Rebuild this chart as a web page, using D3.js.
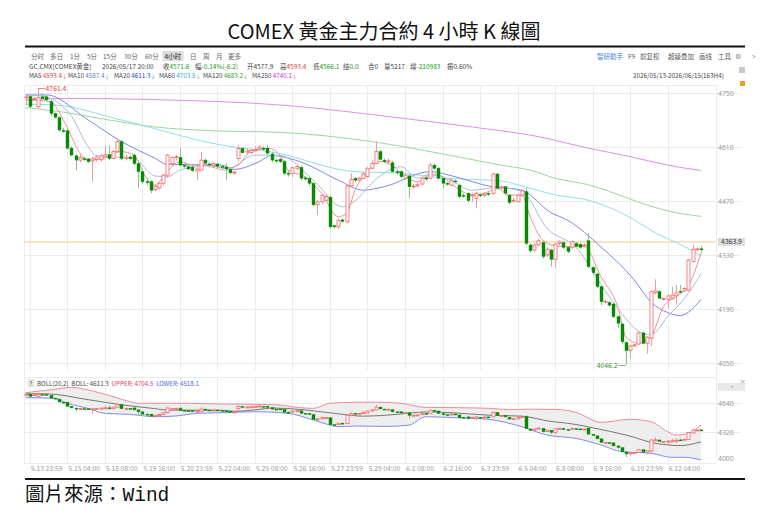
<!DOCTYPE html>
<html><head><meta charset="utf-8">
<script src="https://cdn.jsdelivr.net/npm/d3@7/dist/d3.min.js"></script>
<style>
html,body{margin:0;padding:0;background:#fff;}
svg text{font-family:"Noto Sans CJK SC","Noto Sans",sans-serif;}
</style></head><body>
<svg id="c" width="764" height="517"></svg>
<script>
// ---------- DATA ----------
const opens  = [4738,4741,4735,4714,4740,4740,4728,4697,4686,4653,4652,4607,4587,4576,4580,4579,4574,4578,4577,4586,
4590,4580,4598,4624,4580,4584,4589,4567,4546,4520,4520,4500,4504,4516,4537,4567,4583,4583,4563,4559,
4558,4548,4550,4576,4566,4562,4566,4560,4558,4552,4543,4580,4606,4597,4596,4600,4605,4607,4607,4592,
4576,4578,4572,4542,4542,4555,4557,4530,4529,4516,4460,4468,4472,4480,4406,4403,4421,4416,4509,4529,
4524,4529,4533,4555,4567,4598,4576,4572,4569,4546,4546,4529,4535,4507,4510,4514,4530,4529,4563,4555,
4529,4516,4511,4522,4511,4485,4490,4484,4477,4486,4485,4490,4490,4540,4504,4507,4485,4470,4468,4485,
4494,4356,4343,4356,4362,4330,4343,4319,4360,4362,4350,4350,4360,4358,4355,4367,4298,4281,4248,4209,
4207,4203,4170,4151,4103,4082,4095,4099,4128,4101,4114,4232,4235,4216,4215,4218,4224,4236,4237,4239,
4313,4345,4346];
const highs  = [4746,4745,4740,4761.4,4750,4744,4733,4700,4690,4660,4656,4612,4592,4590,4584,4582,4585,4588,4592,4614,
4614,4602,4630,4628,4590,4588,4594,4575,4552,4530,4524,4512,4520,4540,4592,4585,4590,4607,4568,4566,
4562,4565,4597,4580,4572,4570,4570,4565,4568,4556,4548,4615,4610,4606,4606,4612,4615,4612,4615,4598,
4580,4582,4576,4550,4560,4565,4562,4534,4532,4518,4472,4490,4488,4483,4408,4425,4425,4512,4542,4532,
4532,4545,4558,4576,4625,4602,4580,4580,4574,4550,4550,4540,4540,4515,4518,4532,4533,4569,4567,4558,
4532,4520,4528,4526,4515,4490,4493,4490,4495,4490,4492,4493,4543,4543,4510,4510,4488,4478,4490,4500,
4505,4360,4360,4372,4368,4350,4346,4362,4368,4366,4353,4368,4364,4362,4360,4387,4300,4284,4250,4214,
4210,4206,4173,4154,4106,4098,4100,4132,4131,4120,4238,4267,4239,4220,4227,4247,4252,4252,4246,4320,
4356,4350,4354];
const lows   = [4718,4710,4730,4710,4733,4728,4692,4684,4650,4646,4604,4586,4550,4570,4574,4568,4520,4572,4572,4580,
4576,4578,4595,4576,4575,4576,4563,4503,4515,4512,4490,4496,4500,4510,4530,4560,4575,4560,4556,4550,
4545,4525,4548,4566,4560,4558,4557,4552,4525,4540,4538,4572,4595,4590,4592,4597,4600,4600,4590,4570,
4570,4568,4537,4533,4533,4550,4525,4522,4510,4455,4433,4462,4470,4398,4398,4397,4414,4412,4505,4520,
4521,4526,4530,4552,4565,4575,4568,4566,4543,4538,4528,4525,4477,4502,4505,4510,4522,4526,4550,4526,
4503,4510,4508,4515,4478,4478,4466,4468,4451,4480,4481,4483,4487,4500,4500,4485,4462,4466,4466,4482,
4356,4336,4338,4352,4320,4325,4300,4297,4355,4345,4334,4346,4350,4346,4350,4296,4278,4244,4200,4205,
4196,4166,4140,4100,4046.2,4062,4092,4096,4098,4075,4094,4228,4215,4212,4192,4215,4200,4230,4234,4236,
4310,4340,4335];
const closes = [4740,4715,4736,4738,4735,4732,4697,4687,4654,4650,4607,4589,4576,4583,4578,4572,4579,4584,4587,4590,
4580,4598,4624,4580,4584,4580,4567,4546,4520,4518,4498,4508,4516,4537,4589,4583,4585,4563,4560,4553,
4549,4553,4576,4568,4564,4567,4560,4557,4553,4543,4545,4606,4595,4600,4601,4604,4610,4604,4594,4576,
4574,4572,4542,4541,4556,4560,4529,4527,4516,4460,4468,4485,4482,4403,4403,4420,4417,4509,4526,4524,
4529,4540,4555,4567,4598,4578,4572,4574,4546,4543,4533,4537,4507,4509,4512,4529,4527,4563,4555,4529,
4516,4515,4524,4521,4481,4483,4471,4486,4490,4485,4488,4487,4540,4503,4507,4490,4466,4472,4485,4496,
4360,4341,4356,4367,4326,4345,4319,4358,4364,4350,4339,4364,4353,4350,4356,4300,4284,4248,4209,4210,
4200,4170,4153,4105,4082,4094,4097,4128,4101,4117,4235,4237,4218,4217,4224,4226,4232,4234,4243,4317,
4345,4346,4344];

// moving averages, [bar index, value]
const ma5   = [[0,4732],[6,4728],[8,4701],[10,4660],[13,4595],[15,4576],[19,4582],[23,4598],[26,4589],[29,4529],[31,4511],[34,4546],[37,4572],[40,4563],[43,4563],[48,4555],[51,4563],[54,4598],[58,4607],[61,4589],[63,4550],[67,4533],[71,4490],[75,4429],[77,4438],[79,4498],[82,4546],[85,4572],[88,4561],[91,4533],[94,4520],[97,4537],[99,4537],[103,4507],[107,4486],[110,4490],[113,4503],[116,4486],[119,4485],[121,4430],[124,4369],[128,4352],[134,4352],[138,4274],[142,4196],[144,4118],[147,4101],[150,4118],[153,4196],[156,4222],[159,4250],[162,4335]];
const ma10  = [[0,4745],[4,4742],[11,4690],[15,4611],[17,4588],[23,4583],[26,4580],[31,4535],[34,4533],[37,4550],[43,4561],[48,4550],[55,4589],[61,4588],[69,4524],[76,4455],[79,4470],[83,4516],[86,4542],[90,4559],[94,4529],[97,4540],[102,4524],[107,4498],[113,4505],[119,4495],[125,4400],[132,4350],[140,4222],[148,4127],[150,4123],[154,4170],[159,4231],[162,4282]];
const ma20  = [[0,4745],[5,4745],[15,4680],[23,4624],[31,4581],[34,4565],[47,4563],[50,4552],[56,4572],[59,4588],[62,4584],[67,4567],[75,4524],[81,4498],[86,4507],[97,4546],[103,4533],[111,4509],[119,4498],[126,4440],[130,4420],[138,4351],[146,4265],[150,4208],[154,4181],[157,4173],[159,4182],[162,4215]];
const ma60  = [[0,4721],[7,4719],[23,4680],[47,4615],[60,4595],[79,4546],[90,4542],[101,4529],[114,4522],[120,4506],[127,4486],[135,4472],[144,4433],[151,4388],[158,4352],[162,4328]];
const ma120 = [[0,4712],[8,4702],[20,4680],[31,4662],[45,4652],[61,4648],[83,4624],[102,4588],[114,4563],[121,4550],[127,4529],[135,4512],[140,4495],[147,4467],[155,4442],[162,4430]];
const ma250 = [[0,4731],[10,4736],[30,4733],[61,4719],[90,4685],[114,4652],[121,4641],[135,4607],[145,4585],[154,4563],[162,4549]];
// Bollinger (20,2): middle line is MA20
const bollUpper = [[0,4757],[7,4794],[11,4816],[15,4787],[21,4713],[25,4658],[27,4640],[39,4640],[47,4632],[55,4629],[61,4621],[65,4595],[69,4584],[73,4640],[79,4651],[85,4651],[90,4640],[96,4595],[103,4592],[111,4585],[116,4570],[120,4575],[127,4573],[132,4540],[138,4430],[145,4463],[150,4437],[154,4327],[156,4290],[159,4308],[162,4400]];
const bollLower = [[0,4702],[7,4695],[10,4640],[15,4584],[19,4529],[25,4518],[31,4492],[36,4500],[41,4529],[47,4536],[55,4547],[63,4529],[69,4456],[73,4400],[75,4382],[79,4389],[87,4385],[92,4400],[96,4492],[103,4481],[111,4463],[119,4382],[125,4290],[132,4253],[138,4180],[143,4106],[150,4088],[155,4044],[158,4044],[162,4014]];

const mainTicks = [4050,4190,4330,4470,4610,4750];
const bollTicks = [4000,4320,4640];
const xTickIdx = [1,10,19,28,37,46,55,64,73,82,91,100,109,118,127,136,145,154];
const xTickLabels = ["5.13 23:59","5.15 04:00","5.18 08:00","5.19 16:00","5.20 23:59","5.22 04:00","5.25 08:00","5.26 16:00","5.27 23:59","5.29 04:00","6.1 08:00","6.2 16:00","6.3 23:59","6.5 04:00","6.8 08:00","6.9 16:00","6.10 23:59","6.12 04:00"];
const lastPrice = 4363.9;
const maxMark = {i:3, v:4761.4};
const minMark = {i:144, v:4046.2};

// ---------- DRAW ----------
const svg = d3.select("#c");
const N = closes.length;
const L = 24, R = 716;
const x = d3.scaleLinear().domain([0, N-1]).range([25.6, 701]);
const y = d3.scaleLinear().domain([4050, 4750]).range([363, 93]);
const yb = d3.scaleLinear().domain([4000, 4640]).range([461.3, 403.3]);
const MT = 85, MB = 370, BT = 377, BB = 463;

svg.append("rect").attr("width",764).attr("height",517).attr("fill","#fff");

// title
svg.append("text").attr("x",384).attr("y",39).attr("text-anchor","middle")
  .style("font-family","'Noto Sans CJK TC',sans-serif").style("font-size","20px").attr("fill","#111")
  .text("COMEX 黃金主力合約 4 小時 K 線圖");
svg.append("rect").attr("x",25).attr("y",45.5).attr("width",720).attr("height",2).attr("fill","#111");
svg.append("rect").attr("x",25).attr("y",478).attr("width",720).attr("height",2).attr("fill","#111");
const ft = svg.append("text").attr("x",25).attr("y",501).style("font-size","19.5px").attr("fill","#111");
ft.append("tspan").style("font-family","'Noto Sans CJK TC',sans-serif").text("圖片來源：");
ft.append("tspan").style("font-family","'Liberation Mono','DejaVu Sans Mono',monospace").text("Wind");

// header text helper: groups placed at x, parts flow inline
const FS = "6.5px";
function grp(xp, yp, parts, size){
  const e = svg.append("text").attr("x",xp).attr("y",yp).style("font-size",size||FS);
  parts.forEach(p=>{
    const s = e.append("tspan").attr("fill",p[1]||"#555").text(p[0]);
    if(p[2]) s.style("font-size",p[2]);
  });
  return e;
}
svg.append("rect").attr("x",162.5).attr("y",51).attr("width",21).attr("height",10).attr("fill","#dcdcdc");
[["分时",31],["多日",50],["1分",70],["5分",87],["15分",103],["30分",124],["60分",145],["4小时",164.5],["日",190],["周",203],["月",216],["更多",228]]
  .forEach(d=>grp(d[1],59,[[d[0],d[0]==="4小时"?"#222":"#666"]]));
grp(597,59,[["智研助手","#3d86d8"]]); grp(628,59,[["F9"]]); grp(640,59,[["前复权"]]); grp(668,59,[["超级叠加"]]);
grp(699,59,[["画线"]]); grp(718,59,[["工具"]]); grp(735,59,[["⚙","#888"]]); grp(752,59,[[">","#888"]]);
const G="#1d9b1d", Rd="#e23a3a", Dk="#444";
[[29,[["GC.CMX[COMEX黄金]",Dk]]],[102,[["2026/05/17 20:00",Dk]]],[163,[["收",Dk],["4571.6",G]]],
 [195,[["幅",Dk],["-0.14%(-6.2)",G]]],[247,[["开4577.9",Dk]]],[280,[["高",Dk],["4593.4",Rd]]],
 [313,[["低",Dk],["4566.1",G]]],[343,[["结",Dk],["0.0",G]]],[368,[["合0",Dk]]],[384,[["量5217",Dk]]],
 [410,[["增",Dk],["-210983",G]]],[447,[["振0.60%",Dk]]]].forEach(d=>grp(d[0],68.5,d[1]));
[[29,"MA5","4593.4","#e03a3a"],[68,"MA10","4587.4","#5a7cc0"],[114,"MA20","4611.3","#2a45e0"],
 [159,"MA60","4703.5","#15b2cc"],[203,"MA120","4683.2","#2aa52a"],[252,"MA250","4740.1","#d030d0"]]
 .forEach(d=>grp(d[0],78,[[d[1]+" ",Dk],[d[2],d[3]],["↓",d[3],"5px"]],"6.3px"));
grp(633,78,[["2026/05/13-2026/06/15(163H4)","#444"]],"6.3px");
svg.append("rect").attr("x",739).attr("y",67).attr("width",6).attr("height",6).attr("fill","#c8c8c8");
svg.append("rect").attr("x",740).attr("y",81).attr("width",5).attr("height",5).attr("fill","#f0a020");

// grids
const grid = svg.append("g").attr("stroke","#ececec").attr("stroke-width",1);
mainTicks.forEach(v=>grid.append("line").attr("x1",L).attr("x2",740).attr("y1",Math.round(y(v))+0.5).attr("y2",Math.round(y(v))+0.5));
bollTicks.slice(1).forEach(v=>grid.append("line").attr("x1",L).attr("x2",740).attr("y1",Math.round(yb(v))+0.5).attr("y2",Math.round(yb(v))+0.5));
[MT,BT,BB].forEach(v=>grid.append("line").attr("x1",L).attr("x2",R).attr("y1",v+0.5).attr("y2",v+0.5));
xTickIdx.forEach(i=>{
  const xx = Math.round(x(i))+0.5;
  grid.append("line").attr("x1",xx).attr("x2",xx).attr("y1",MT).attr("y2",MB);
  grid.append("line").attr("x1",xx).attr("x2",xx).attr("y1",BT).attr("y2",BB);
});
grid.append("line").attr("x1",R+0.5).attr("x2",R+0.5).attr("y1",MT).attr("y2",BB);
grid.append("line").attr("x1",L+0.5).attr("x2",L+0.5).attr("y1",MT).attr("y2",BB);

// clips
const defs = svg.append("defs");
defs.append("clipPath").attr("id","cm").append("rect").attr("x",L).attr("y",MT).attr("width",R-L).attr("height",MB-MT);
defs.append("clipPath").attr("id","cb").append("rect").attr("x",L).attr("y",BT).attr("width",R-L).attr("height",BB-BT);

// last price line
svg.append("line").attr("x1",L).attr("x2",R).attr("y1",y(lastPrice)).attr("y2",y(lastPrice)).attr("stroke","#ffc488").attr("stroke-width",1);

// moving averages
const mk = sc => d3.line().x(d=>x(d[0])).y(d=>sc(d[1])).curve(d3.curveMonotoneX);
const gm = svg.append("g").attr("clip-path","url(#cm)");
[[ma250,"#e58cf2"],[ma120,"#9ad89a"],[ma60,"#8fdfea"],[ma20,"#7c88f2"],[ma10,"#a9bcdc"],[ma5,"#f29292"]].forEach(d=>{
  gm.append("path").attr("d",mk(y)(d[0])).attr("fill","none").attr("stroke",d[1]).attr("stroke-width",1);
});

// candles
const UP="#f06464", UPW="#f59a9a", DN="#078a07", DNW="#86c886";
function candles(g, sc){
  const data = d3.range(N).map(i=>({i,o:opens[i],h:highs[i],l:lows[i],c:closes[i]}));
  g.selectAll("line.w").data(data).join("line")
    .attr("x1",d=>Math.round(x(d.i))+0.5).attr("x2",d=>Math.round(x(d.i))+0.5)
    .attr("y1",d=>sc(d.h)).attr("y2",d=>sc(d.l))
    .attr("stroke",d=>d.c>=d.o?UPW:DNW).attr("stroke-width",1);
  g.selectAll("rect.b").data(data).join("rect")
    .attr("x",d=>Math.round(x(d.i))-1).attr("width",3)
    .attr("y",d=>Math.min(sc(d.o),sc(d.c)))
    .attr("height",d=>Math.max(1,Math.abs(sc(d.o)-sc(d.c))))
    .attr("fill",d=>d.c>=d.o?"#fff":DN)
    .attr("stroke",d=>d.c>=d.o?UP:DN).attr("stroke-width",d=>d.c>=d.o?0.8:0.4);
}
candles(svg.append("g").attr("clip-path","url(#cm)"), y);

// high / low marks
svg.append("line").attr("x1",x(maxMark.i)).attr("x2",x(maxMark.i)+7).attr("y1",y(maxMark.v)).attr("y2",y(maxMark.v)).attr("stroke","#e86060").attr("stroke-width",0.8);
svg.append("text").attr("x",x(maxMark.i)+7.5).attr("y",y(maxMark.v)+2.5).style("font-size","6.8px").attr("fill","#e23a3a").text("4761.4");
svg.append("line").attr("x1",x(minMark.i)-8).attr("x2",x(minMark.i)).attr("y1",y(minMark.v)+1).attr("y2",y(minMark.v)+1).attr("stroke","#55aa55").attr("stroke-width",0.8);
svg.append("text").attr("x",x(minMark.i)-8.5).attr("y",y(minMark.v)+3.5).attr("text-anchor","end").style("font-size","6.8px").attr("fill","#2a9a2a").text("4046.2");

// y axes
const ya = svg.append("g").attr("transform",`translate(${R},0)`)
  .call(d3.axisRight(y).tickValues(mainTicks).tickSize(0).tickPadding(2).tickFormat(d3.format("d")));
ya.select(".domain").remove();
ya.selectAll("text").style("font-size","6.8px").attr("fill","#9a9a9a").style("font-family","'Noto Sans',sans-serif");
const yba = svg.append("g").attr("transform",`translate(${R},0)`)
  .call(d3.axisRight(yb).tickValues(bollTicks).tickSize(0).tickPadding(2).tickFormat(d3.format("d")));
yba.select(".domain").remove();
yba.selectAll("text").style("font-size","6.8px").attr("fill","#9a9a9a").style("font-family","'Noto Sans',sans-serif")
  .attr("dy",d=>d===4000?"-0.05em":"0.32em");

// last price box
svg.append("rect").attr("x",718).attr("y",y(lastPrice)-4).attr("width",27).attr("height",8).attr("fill","#dedede");
svg.append("text").attr("x",731.5).attr("y",y(lastPrice)+2.4).attr("text-anchor","middle").style("font-size","6.8px").attr("fill","#333").text("4363.9");

// Bollinger panel
const gb = svg.append("g").attr("clip-path","url(#cb)");
const area = d3.area().x(d=>x(d[0])).y0(d=>yb(d[1])).y1(d=>yb(d[2])).curve(d3.curveMonotoneX);
const idxs = d3.range(0,N);
const upS = d3.scaleLinear().domain(bollUpper.map(d=>d[0])).range(bollUpper.map(d=>d[1]));
const loS = d3.scaleLinear().domain(bollLower.map(d=>d[0])).range(bollLower.map(d=>d[1]));
gb.append("path").attr("d",area(idxs.map(i=>[i,loS(i),upS(i)]))).attr("fill","#eeeeee");
gb.append("path").attr("d",mk(yb)(bollUpper)).attr("fill","none").attr("stroke","#f08a9a").attr("stroke-width",1);
gb.append("path").attr("d",mk(yb)(bollLower)).attr("fill","none").attr("stroke","#7e8cf0").attr("stroke-width",1);
gb.append("path").attr("d",mk(yb)(ma20)).attr("fill","none").attr("stroke","#777").attr("stroke-width",1);
candles(gb.append("g"), yb);

// boll header
svg.append("rect").attr("x",27.5).attr("y",379).attr("width",7).attr("height",8).attr("fill","#e6e6e6");
grp(29.3,385.5,[["?","#555"]],"6.2px");
const bh = svg.append("text").attr("x",37).attr("y",385.5).style("font-size","6.2px").style("white-space","pre");
bh.append("tspan").attr("fill","#444").text("BOLL(20,2)  BOLL: 4611.3  ");
bh.append("tspan").attr("fill","#e8406a").text("UPPER: 4704.5  ");
bh.append("tspan").attr("fill","#4a62e6").text("LOWER: 4518.1");
svg.append("rect").attr("x",718).attr("y",383).attr("width",27).attr("height",8).attr("fill","#e8e8e8");
grp(729,389,[["·","#888"]]); grp(739.5,384,[["×","#999"]]);

// x axis
const xa = svg.append("g").attr("transform",`translate(0,${BB})`)
  .call(d3.axisBottom(x).tickValues(xTickIdx).tickSize(0).tickPadding(3).tickFormat((d,k)=>xTickLabels[k]));
xa.select(".domain").remove();
xa.selectAll("text").style("font-size","6.8px").attr("fill","#9a9a9a").attr("text-anchor","start").attr("dx","0.5");
</script>
</body></html>
